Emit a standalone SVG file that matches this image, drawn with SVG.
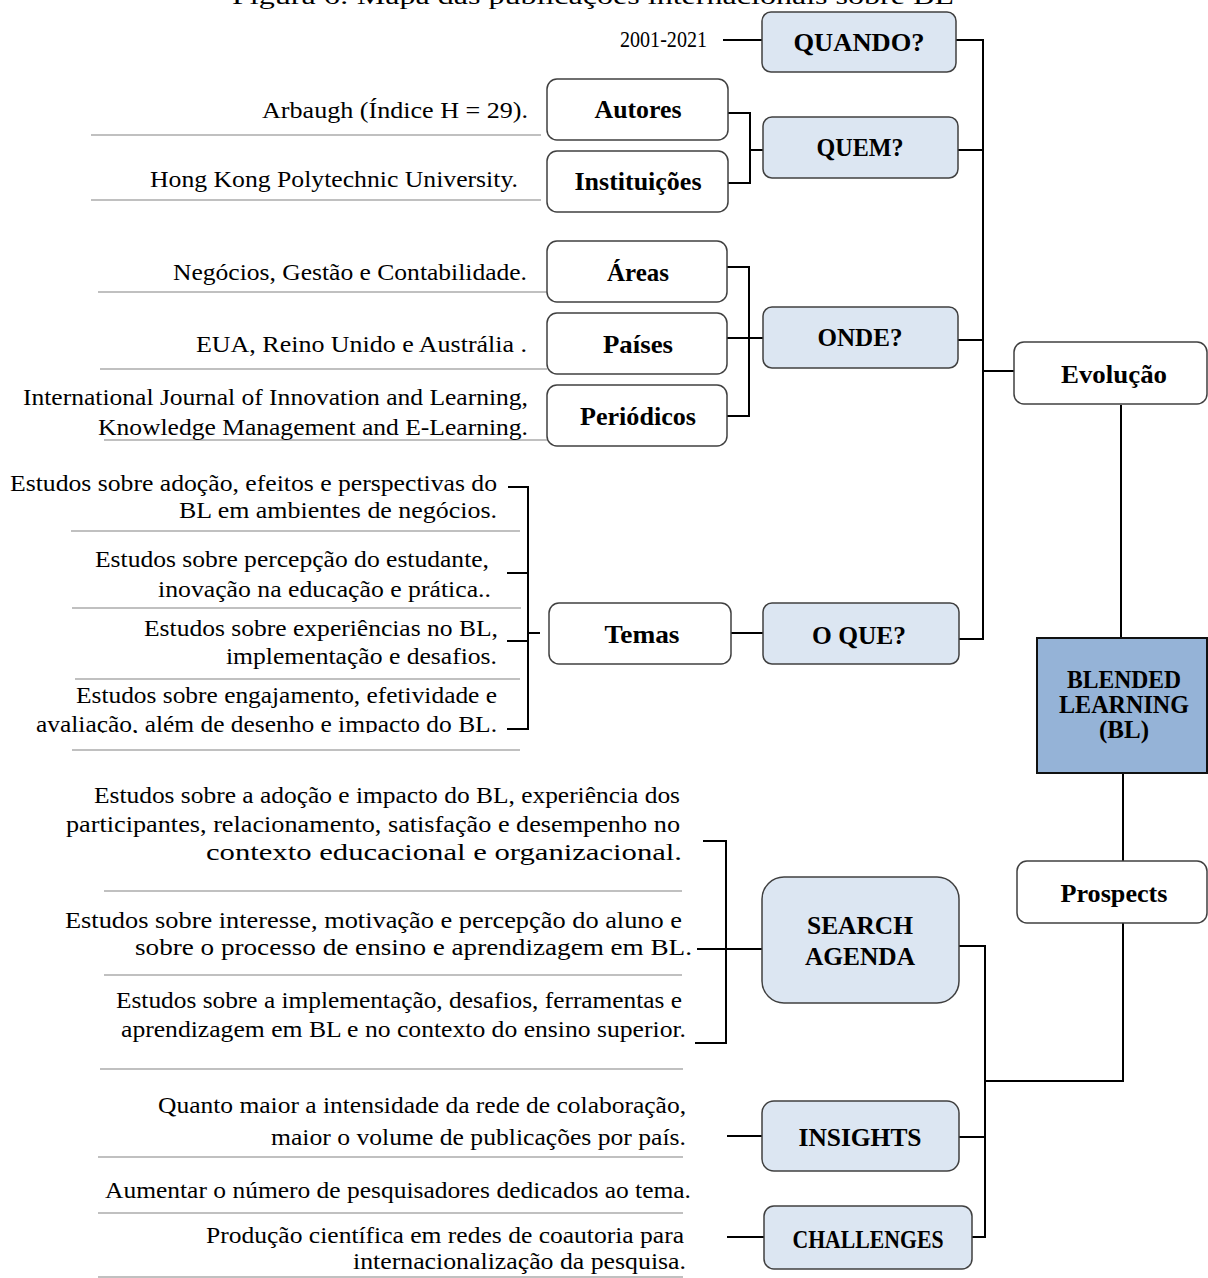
<svg xmlns="http://www.w3.org/2000/svg" width="1208" height="1278" viewBox="0 0 1208 1278">
  <style>
    .txt { font-family: "Liberation Serif", "Times New Roman", serif; font-size: 24px; fill: #000; }
    .lbl { font-family: "Liberation Serif", "Times New Roman", serif; font-size: 25px; font-weight: bold; fill: #000; text-anchor: middle; }
    .box { fill: #fff; stroke: #404040; stroke-width: 1.5; }
    .qbox { fill: #DCE6F2; stroke: #404040; stroke-width: 1.5; }
    .core { fill: #95B3D7; stroke: #111; stroke-width: 2; }
    .rule { stroke: #C0C0C0; stroke-width: 2; fill: none; }
    .conn { stroke: #000; stroke-width: 2; fill: none; }
  </style>
  <defs>
    <clipPath id="cutLast">
      <rect x="0" y="690" width="540" height="43"/>
    </clipPath>
  </defs>
  <rect width="1208" height="1278" fill="#fff"/>

  <!-- caption, mostly above the top edge -->
  <text class="txt" x="232" y="4" font-size="24" textLength="722" lengthAdjust="spacingAndGlyphs">Figura 6: Mapa das publicações internacionais sobre BL</text>

  <!-- separator rules under the descriptions -->
  <g id="rules">
    <line class="rule" x1="91" y1="135" x2="541" y2="135"/>
    <line class="rule" x1="91" y1="200" x2="541" y2="200"/>
    <line class="rule" x1="98" y1="292" x2="547" y2="292"/>
    <line class="rule" x1="100" y1="369" x2="547" y2="369"/>
    <line class="rule" x1="104" y1="440" x2="550" y2="440"/>
    <line class="rule" x1="71" y1="531" x2="520" y2="531"/>
    <line class="rule" x1="72" y1="608" x2="521" y2="608"/>
    <line class="rule" x1="75" y1="679" x2="520" y2="679"/>
    <line class="rule" x1="72" y1="750" x2="520" y2="750"/>
    <line class="rule" x1="104" y1="891" x2="682" y2="891"/>
    <line class="rule" x1="104" y1="975" x2="682" y2="975"/>
    <line class="rule" x1="100" y1="1069" x2="683" y2="1069"/>
    <line class="rule" x1="98" y1="1157" x2="683" y2="1157"/>
    <line class="rule" x1="98" y1="1213" x2="683" y2="1213"/>
    <line class="rule" x1="98" y1="1277" x2="683" y2="1277" stroke="#E4E4E4"/>
  </g>

  <!-- connectors -->
  <g id="connectors">
    <path class="conn" d="M723,40 H762"/>
    <path class="conn" d="M956,40 H983 V639 H959"/>
    <path class="conn" d="M958,150 H983"/>
    <path class="conn" d="M958,340 H983"/>
    <path class="conn" d="M983,371 H1014"/>
    <path class="conn" d="M728,113 H750 V183 H728 M750,150 H763"/>
    <path class="conn" d="M727,267 H749 V416 H727 M727,338 H763"/>
    <path class="conn" d="M508,487 H528 V729 H507 M507,573 H528 M507,641 H528 M528,633 H540"/>
    <path class="conn" d="M731,633 H763"/>
    <path class="conn" d="M1121,405 V638"/>
    <path class="conn" d="M1123,773 V861"/>
    <path class="conn" d="M1123,923 V1081 H985"/>
    <path class="conn" d="M959,946 H985 V1237 H972 M959,1137 H985"/>
    <path class="conn" d="M703,841 H726 V1043 H695 M697,949 H762"/>
    <path class="conn" d="M727,1136 H762"/>
    <path class="conn" d="M727,1237 H764"/>
  </g>

  <!-- QUANDO? -->
  <g id="quando">
    <rect class="qbox" x="762" y="12" width="194" height="60" rx="9"/>
    <text class="lbl" x="859" y="51" textLength="131" lengthAdjust="spacingAndGlyphs">QUANDO?</text>
  </g>
  <g id="periodo">
    <text class="txt" x="707" y="47" text-anchor="end" font-size="23" textLength="87" lengthAdjust="spacingAndGlyphs">2001-2021</text>
  </g>

  <!-- QUEM? -->
  <g id="quem">
    <rect class="qbox" x="763" y="117" width="195" height="61" rx="9"/>
    <text class="lbl" x="860" y="156" textLength="87" lengthAdjust="spacingAndGlyphs">QUEM?</text>
  </g>
  <g id="autores">
    <rect class="box" x="547" y="79" width="181" height="61" rx="10"/>
    <text class="lbl" x="638" y="118" textLength="87" lengthAdjust="spacingAndGlyphs">Autores</text>
    <text class="txt" x="528" y="118" text-anchor="end" textLength="266" lengthAdjust="spacingAndGlyphs">Arbaugh (Índice H = 29).</text>
  </g>
  <g id="instituicoes">
    <rect class="box" x="547" y="151" width="181" height="61" rx="10"/>
    <text class="lbl" x="638" y="190" textLength="127" lengthAdjust="spacingAndGlyphs">Instituições</text>
    <text class="txt" x="518" y="187" text-anchor="end" textLength="368" lengthAdjust="spacingAndGlyphs">Hong Kong Polytechnic University.</text>
  </g>

  <!-- ONDE? -->
  <g id="onde">
    <rect class="qbox" x="763" y="307" width="195" height="61" rx="9"/>
    <text class="lbl" x="860" y="346" textLength="85" lengthAdjust="spacingAndGlyphs">ONDE?</text>
  </g>
  <g id="areas">
    <rect class="box" x="547" y="241" width="180" height="61" rx="10"/>
    <text class="lbl" x="638" y="281" textLength="62" lengthAdjust="spacingAndGlyphs">Áreas</text>
    <text class="txt" x="527" y="280" text-anchor="end" textLength="354" lengthAdjust="spacingAndGlyphs">Negócios, Gestão e Contabilidade.</text>
  </g>
  <g id="paises">
    <rect class="box" x="547" y="313" width="180" height="61" rx="10"/>
    <text class="lbl" x="638" y="353" textLength="70" lengthAdjust="spacingAndGlyphs">Países</text>
    <text class="txt" x="527" y="352" text-anchor="end" textLength="331" lengthAdjust="spacingAndGlyphs">EUA, Reino Unido e Austrália .</text>
  </g>
  <g id="periodicos">
    <rect class="box" x="547" y="385" width="180" height="61" rx="10"/>
    <text class="lbl" x="638" y="425" textLength="116" lengthAdjust="spacingAndGlyphs">Periódicos</text>
    <text class="txt" x="528" y="405" text-anchor="end" textLength="505" lengthAdjust="spacingAndGlyphs">International Journal of Innovation and Learning,</text>
    <text class="txt" x="528" y="435" text-anchor="end" textLength="430" lengthAdjust="spacingAndGlyphs">Knowledge Management and E-Learning.</text>
  </g>

  <!-- O QUE? -->
  <g id="oque">
    <rect class="qbox" x="763" y="603" width="196" height="61" rx="9"/>
    <text class="lbl" x="859" y="644" textLength="94" lengthAdjust="spacingAndGlyphs">O QUE?</text>
  </g>
  <g id="temas">
    <rect class="box" x="549" y="603" width="182" height="61" rx="10"/>
    <text class="lbl" x="642" y="643" textLength="75" lengthAdjust="spacingAndGlyphs">Temas</text>
    <text class="txt" x="497" y="491" text-anchor="end" textLength="487" lengthAdjust="spacingAndGlyphs">Estudos sobre adoção, efeitos e perspectivas do</text>
    <text class="txt" x="497" y="518" text-anchor="end" textLength="318" lengthAdjust="spacingAndGlyphs">BL em ambientes de negócios.</text>
    <text class="txt" x="489" y="567" text-anchor="end" textLength="394" lengthAdjust="spacingAndGlyphs">Estudos sobre percepção do estudante,</text>
    <text class="txt" x="491" y="597" text-anchor="end" textLength="333" lengthAdjust="spacingAndGlyphs">inovação na educação e prática..</text>
    <text class="txt" x="498" y="636" text-anchor="end" textLength="354" lengthAdjust="spacingAndGlyphs">Estudos sobre experiências no BL,</text>
    <text class="txt" x="497" y="664" text-anchor="end" textLength="271" lengthAdjust="spacingAndGlyphs">implementação e desafios.</text>
    <text class="txt" x="497" y="703" text-anchor="end" textLength="421" lengthAdjust="spacingAndGlyphs">Estudos sobre engajamento, efetividade e</text>
    <text class="txt" x="497" y="732" text-anchor="end" textLength="461" lengthAdjust="spacingAndGlyphs" clip-path="url(#cutLast)">avaliação, além de desenho e impacto do BL.</text>
  </g>

  <!-- Evolução and the core concept -->
  <g id="evolucao">
    <rect class="box" x="1014" y="342" width="193" height="62" rx="10"/>
    <text class="lbl" x="1114" y="383" textLength="106" lengthAdjust="spacingAndGlyphs">Evolução</text>
  </g>
  <g id="blended-learning">
    <rect class="core" x="1037" y="638" width="170" height="135"/>
    <text class="lbl" x="1124" y="688" font-size="23" textLength="114" lengthAdjust="spacingAndGlyphs">BLENDED</text>
    <text class="lbl" x="1124" y="713" font-size="23" textLength="130" lengthAdjust="spacingAndGlyphs">LEARNING</text>
    <text class="lbl" x="1124" y="738" font-size="23">(BL)</text>
  </g>
  <g id="prospects">
    <rect class="box" x="1017" y="861" width="190" height="62" rx="10"/>
    <text class="lbl" x="1114" y="902" textLength="107" lengthAdjust="spacingAndGlyphs">Prospects</text>
  </g>

  <!-- SEARCH AGENDA -->
  <g id="search-agenda">
    <rect class="qbox" x="762" y="877" width="197" height="126" rx="22"/>
    <text class="lbl" x="860" y="934" textLength="106" lengthAdjust="spacingAndGlyphs">SEARCH</text>
    <text class="lbl" x="860" y="965" textLength="110" lengthAdjust="spacingAndGlyphs">AGENDA</text>
    <text class="txt" x="680" y="803" text-anchor="end" textLength="586" lengthAdjust="spacingAndGlyphs">Estudos sobre a adoção e impacto do BL, experiência dos</text>
    <text class="txt" x="680" y="832" text-anchor="end" textLength="614" lengthAdjust="spacingAndGlyphs">participantes, relacionamento, satisfação e desempenho no</text>
    <text class="txt" x="682" y="860" text-anchor="end" textLength="476" lengthAdjust="spacingAndGlyphs">contexto educacional e organizacional.</text>
    <text class="txt" x="682" y="928" text-anchor="end" textLength="617" lengthAdjust="spacingAndGlyphs">Estudos sobre interesse, motivação e percepção do aluno e</text>
    <text class="txt" x="692" y="955" text-anchor="end" textLength="557" lengthAdjust="spacingAndGlyphs">sobre o processo de ensino e aprendizagem em BL.</text>
    <text class="txt" x="682" y="1008" text-anchor="end" textLength="566" lengthAdjust="spacingAndGlyphs">Estudos sobre a implementação, desafios, ferramentas e</text>
    <text class="txt" x="686" y="1037" text-anchor="end" textLength="565" lengthAdjust="spacingAndGlyphs">aprendizagem em BL e no contexto do ensino superior.</text>
  </g>

  <!-- INSIGHTS -->
  <g id="insights">
    <rect class="qbox" x="762" y="1101" width="197" height="70" rx="12"/>
    <text class="lbl" x="860" y="1146" textLength="123" lengthAdjust="spacingAndGlyphs">INSIGHTS</text>
    <text class="txt" x="686" y="1113" text-anchor="end" textLength="528" lengthAdjust="spacingAndGlyphs">Quanto maior a intensidade da rede de colaboração,</text>
    <text class="txt" x="686" y="1145" text-anchor="end" textLength="415" lengthAdjust="spacingAndGlyphs">maior o volume de publicações por país.</text>
  </g>

  <!-- CHALLENGES -->
  <g id="challenges">
    <rect class="qbox" x="764" y="1206" width="208" height="63" rx="10"/>
    <text class="lbl" x="868" y="1248" font-size="22" textLength="151" lengthAdjust="spacingAndGlyphs">CHALLENGES</text>
    <text class="txt" x="691" y="1198" text-anchor="end" textLength="586" lengthAdjust="spacingAndGlyphs">Aumentar o número de pesquisadores dedicados ao tema.</text>
    <text class="txt" x="684" y="1243" text-anchor="end" textLength="478" lengthAdjust="spacingAndGlyphs">Produção científica em redes de coautoria para</text>
    <text class="txt" x="686" y="1269" text-anchor="end" textLength="333" lengthAdjust="spacingAndGlyphs">internacionalização da pesquisa.</text>
  </g>
</svg>
